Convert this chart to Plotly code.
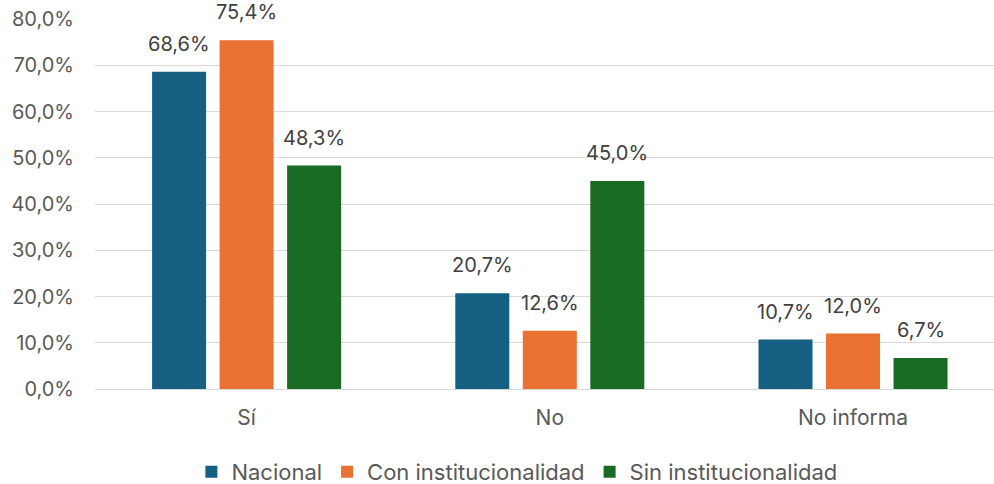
import plotly.graph_objects as go

categories = ["Sí", "No", "No informa"]
series_names = ["Nacional", "Con institucionalidad", "Sin institucionalidad"]
nacional = [68.6, 20.7, 10.7]
con_inst = [75.4, 12.6, 12.0]
sin_inst = [48.3, 45.0, 6.7]
y_ticks = [0, 10, 20, 30, 40, 50, 60, 70, 80]

colors = ["#156082", "#E97132", "#196B24"]
font_family = "Inter, Open Sans, sans-serif"
text_color = "#595959"
label_color = "#404040"


def pct(v):
    return f"{v:.1f}".replace(".", ",") + "%"


# layout geometry used to place value labels above each bar
margin_l, margin_r = 95, 0
fig_w, fig_h = 994, 484
x_range = [-0.5, 2.465]
bargap, bargroupgap = 0.332, 0.2
cat_px = (fig_w - margin_l - margin_r) / (x_range[1] - x_range[0])
pitch_px = cat_px * (1 - bargap) / 3

fig = go.Figure()
all_series = [nacional, con_inst, sin_inst]
for i, (name, vals, col) in enumerate(zip(series_names, all_series, colors)):
    fig.add_trace(go.Bar(
        x=categories, y=vals, name=name,
        marker=dict(color=col, line=dict(width=0)),
        hoverinfo="x+y+name",
    ))
    for cat, v in zip(categories, vals):
        fig.add_annotation(
            x=cat, y=v, xref="x", yref="y",
            text=pct(v), showarrow=False,
            xanchor="center", yanchor="bottom",
            xshift=(i - 1) * pitch_px, yshift=14,
            font=dict(size=20, color=label_color, family=font_family),
        )

fig.update_layout(
    width=fig_w, height=fig_h,
    margin=dict(l=margin_l, r=margin_r, t=19, b=95),
    paper_bgcolor="white", plot_bgcolor="white",
    barmode="group", bargap=bargap, bargroupgap=bargroupgap,
    font=dict(family=font_family, color=text_color, size=17),
    showlegend=True,
    legend=dict(
        orientation="h", xref="container", x=0.52, xanchor="center",
        yref="container", y=0.025, yanchor="middle",
        font=dict(size=22, color=text_color),
        traceorder="normal",
    ),
    xaxis=dict(
        range=x_range, showgrid=False, showline=False,
        ticks="", ticklabelstandoff=14,
        tickfont=dict(size=21, color=text_color),
    ),
    yaxis=dict(
        range=[0, 80], tickvals=y_ticks, ticktext=[pct(t) for t in y_ticks],
        showgrid=True, gridcolor="#D9D9D9", gridwidth=1,
        zeroline=True, zerolinecolor="#D9D9D9", zerolinewidth=1,
        showline=False, ticks="", ticklabelstandoff=20,
        tickfont=dict(size=20, color=text_color),
    ),
)

fig.write_html("out.html")
